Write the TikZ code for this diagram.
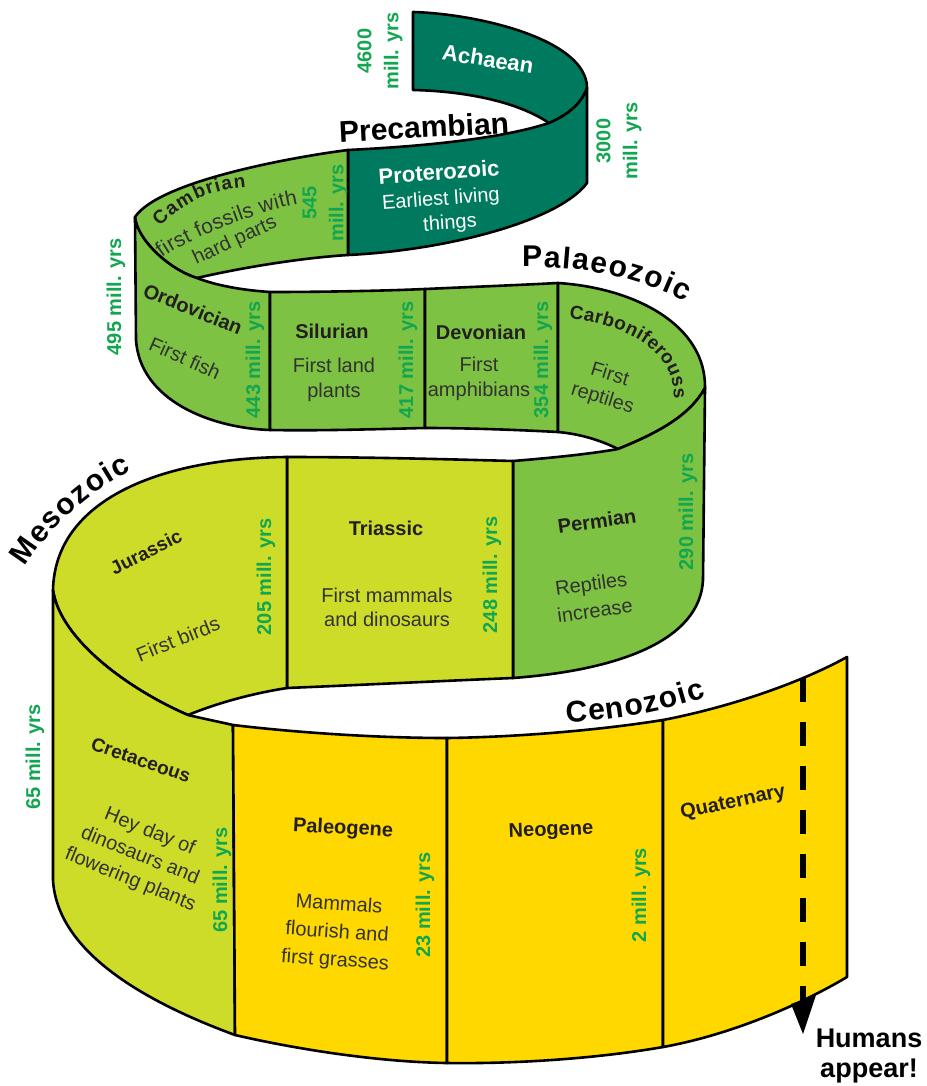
\documentclass[tikz,border=0pt]{standalone}
\usepackage{fontspec}
\setmainfont{Liberation Sans}
\usetikzlibrary{decorations.text}
\definecolor{dkg}{RGB}{0,122,94}
\definecolor{ltg}{RGB}{125,194,66}
\definecolor{ygr}{RGB}{205,220,41}
\definecolor{yel}{RGB}{255,216,0}
\definecolor{myrc}{RGB}{18,166,80}
\definecolor{labc}{RGB}{35,31,32}
\definecolor{bodyc}{RGB}{50,50,50}
\newcommand\erafont{\fontsize{30}{34}\selectfont\bfseries}
\newcommand\carbfont{\fontsize{19}{24}\selectfont\bfseries}
\newcommand\cambfont{\fontsize{19}{24}\selectfont\bfseries}
\newcommand\fossfont{\fontsize{21}{24}\selectfont}
\begin{document}
\begin{tikzpicture}[x=1pt,y=-1pt,
  band/.style={draw=black,line width=2.6pt,line join=round},
  lab/.style={font=\fontsize{20}{24}\selectfont\bfseries,text=labc,inner sep=0pt,align=center},
  body/.style={font=\fontsize{20}{25}\selectfont,text=bodyc,inner sep=0pt,align=center},
  myr/.style={font=\fontsize{20}{27}\selectfont\bfseries,text=myrc,rotate=90,inner sep=0pt,align=center},
  era/.style={font=\erafont,text=black,inner sep=0pt},
  wlab/.style={font=\fontsize{22}{25}\selectfont\bfseries,text=white,inner sep=0pt,align=center},
  wbody/.style={font=\fontsize{20}{24}\selectfont,text=white,inner sep=0pt,align=center},
]
\useasboundingbox (0,0) rectangle (926,1086);
\fill[white] (0,0) rectangle (926,1086);

% ---------------- Precambrian ----------------
\filldraw[band,fill=dkg] (413,12) .. controls (480,14) and (587,40) .. (587,88)
  .. controls (582,103) and (568,115) .. (549,123)
  .. controls (515,100) and (460,91) .. (413,90) -- cycle;
\filldraw[band,fill=dkg] (348,150) .. controls (430,146) and (503,138) .. (549,123)
  .. controls (568,115) and (582,103) .. (587,88) -- (587,183)
  .. controls (560,220) and (450,250) .. (348,255) -- cycle;

% ---------------- Palaeozoic ----------------
\filldraw[band,fill=ltg] (348,150) .. controls (300,156) and (160,180) .. (135,217)
  .. controls (137,240) and (170,270) .. (197,278)
  .. controls (240,268) and (300,258) .. (348,255) -- cycle;
\filldraw[band,fill=ltg] (135,217) -- (136,340) .. controls (140,400) and (210,428) .. (270,430)
  -- (270,292) .. controls (240,290) and (215,285) .. (197,278)
  .. controls (170,270) and (137,240) .. (135,217) -- cycle;
\filldraw[band,fill=ltg] (270,292) .. controls (320,292) and (380,291) .. (425,289) -- (425,428)
  .. controls (380,429) and (320,431) .. (270,430) -- cycle;
\filldraw[band,fill=ltg] (425,289) .. controls (470,287) and (520,285) .. (558,283) -- (558,432)
  .. controls (520,430) and (470,428) .. (425,428) -- cycle;
\filldraw[band,fill=ltg] (558,283) .. controls (635,288) and (706,325) .. (705,388)
  .. controls (690,415) and (660,432) .. (618,449)
  .. controls (600,440) and (580,434) .. (558,432) -- cycle;
\filldraw[band,fill=ltg] (618,449) .. controls (660,432) and (690,415) .. (705,388) -- (703,580)
  .. controls (700,640) and (620,670) .. (513,678) -- (513,461)
  .. controls (550,458) and (590,454) .. (618,449) -- cycle;

% ---------------- Mesozoic ----------------
\filldraw[band,fill=ygr] (287,457) .. controls (360,457) and (440,459) .. (513,461) -- (513,678)
  .. controls (440,681) and (360,685) .. (287,688) -- cycle;
\filldraw[band,fill=ygr] (287,457) .. controls (160,458) and (55,500) .. (53,590)
  .. controls (60,640) and (130,690) .. (188,715)
  .. controls (220,702) and (255,693) .. (287,688) -- cycle;
\filldraw[band,fill=ygr] (53,590) -- (53,880) .. controls (57,950) and (140,1000) .. (235,1035)
  -- (233,725) .. controls (220,722) and (205,719) .. (188,715)
  .. controls (130,690) and (60,640) .. (53,590) -- cycle;

% ---------------- Cenozoic ----------------
\filldraw[band,fill=yel] (233,725) .. controls (300,733) and (380,738) .. (447,738) -- (447,1063)
  .. controls (380,1062) and (300,1050) .. (235,1035) -- cycle;
\filldraw[band,fill=yel] (447,738) .. controls (520,737) and (600,730) .. (663,720) -- (663,1047)
  .. controls (600,1058) and (520,1064) .. (447,1063) -- cycle;
\filldraw[band,fill=yel] (663,720) .. controls (730,707) and (800,683) .. (847,657) -- (847,977)
  .. controls (800,1005) and (730,1035) .. (663,1047) -- cycle;

% ---------------- Humans arrow ----------------
\coordinate (hs) at (803,678);
\coordinate (he) at (803,1000);
\coordinate (htip) at (803,1034);
\coordinate (hl) at (791,1004);
\coordinate (hr) at (816,995);
\draw[line width=6.5pt,dash pattern=on 24pt off 20pt] (hs) -- (he);
\fill (hl) -- (hr) -- (htip) -- cycle;
\node[font=\fontsize{27}{30}\selectfont\bfseries,align=center,inner sep=0pt] (hum) at (869,1056) {Humans\\appear!};

% ---------------- Era titles ----------------
\node[era,rotate=3] (prec) at (424,127) {Precambian};
\path[decorate,decoration={text along path,text={|\erafont|Palaeozoic},text align=fit to path}]
  (522,267) .. controls (580,266) and (633,275) .. (685,302);
\path[decorate,decoration={text along path,text={|\erafont|Mesozoic},text align=fit to path}]
  (25,567) .. controls (45,533) and (92,488) .. (132,471);
\path[decorate,decoration={text along path,text={|\erafont|Cenozoic},text align=fit to path}]
  (566,722) .. controls (610,721) and (660,713) .. (706,697);

% ---------------- Period labels ----------------
\node[wlab,rotate=-9] (ach) at (488,59) {Achaean};
\node[wlab,rotate=4] (prot) at (439,172) {Proterozoic};
\node[wbody,rotate=4] (prot1) at (441,200) {Earliest living};
\node[wbody,rotate=4] (prot2) at (450,224) {things};

\path[decorate,decoration={text along path,text={|\cambfont|Cambrian},text color=labc,text align=fit to path}]
  (160,227) .. controls (181,204) and (212,189) .. (246,187);
\path[decorate,decoration={text along path,text={|\fossfont|first fossils with},text color=bodyc,text align=fit to path}]
  (162,258) .. controls (185,240) and (262,210) .. (298,204);
\node[body,rotate=25] (cam2) at (235,241) {hard parts};

\node[lab,rotate=-22] (ord) at (193,309) {Ordovician};
\node[body,rotate=-24] (ord1) at (185,358) {First fish};
\node[lab] (sil) at (332,331) {Silurian};
\node[body] (sil1) at (334,380) {First land\\plants};
\node[lab] (dev) at (481,332) {Devonian};
\node[body] (dev1) at (479,379) {First\\amphibians};
\path[decorate,decoration={text along path,text={|\carbfont|Carboniferouss},text color=labc,text align=fit to path}]
  (569,319) .. controls (625,325) and (674,348) .. (674,399);
\node[body,rotate=-17] (carb1) at (606,387) {First\\reptiles};

\node[lab,font=\fontsize{19}{22}\selectfont\bfseries,rotate=27] (jur) at (146,552) {Jurassic};
\node[body,rotate=22] (jur1) at (178,639) {First birds};
\node[lab] (tri) at (386,528) {Triassic};
\node[body,font=\fontsize{20}{24}\selectfont] (tri1) at (387,607) {First mammals\\and dinosaurs};
\node[lab,rotate=8] (perm) at (597,521) {Permian};
\node[body,font=\fontsize{20}{27}\selectfont,rotate=8] (perm1) at (593,597) {Reptiles\\increase};

\node[lab,font=\fontsize{19}{22}\selectfont\bfseries,rotate=-19] (cret) at (141,760) {Cretaceous};
\node[body,font=\fontsize{20}{26}\selectfont,rotate=-22] (cret1) at (140,856) {Hey day of\\dinosaurs and\\flowering plants};
\node[lab,rotate=-3] (pal) at (343,829) {Paleogene};
\node[body,font=\fontsize{20}{28}\selectfont,rotate=-4] (pal1) at (337,933) {Mammals\\flourish and\\first grasses};
\node[lab,rotate=2] (neo) at (551,831) {Neogene};
\node[lab,rotate=12] (qua) at (733,803) {Quaternary};

% ---------------- Dates ----------------
\node[myr] (d4600) at (380,51) {4600\\mill. yrs};
\node[myr] (d3000) at (619,141) {3000\\mill. yrs};
\node[myr] (d545) at (325,203) {545\\mill. yrs};
\node[myr] (d495) at (116,297) {495 mill. yrs};
\node[myr] (d443) at (255,360) {443 mill. yrs};
\node[myr] (d417) at (408,360) {417 mill. yrs};
\node[myr] (d354) at (543,360) {354 mill. yrs};
\node[myr] (d290) at (688,512) {290 mill. yrs};
\node[myr] (d248) at (492,575) {248 mill. yrs};
\node[myr] (d205) at (266,577) {205 mill. yrs};
\node[myr] (d65a) at (35,757) {65 mill. yrs};
\node[myr] (d65b) at (222,880) {65 mill. yrs};
\node[myr] (d23) at (425,905) {23 mill. yrs};
\node[myr] (d2) at (641,895) {2 mill. yrs};
\end{tikzpicture}
\end{document}
